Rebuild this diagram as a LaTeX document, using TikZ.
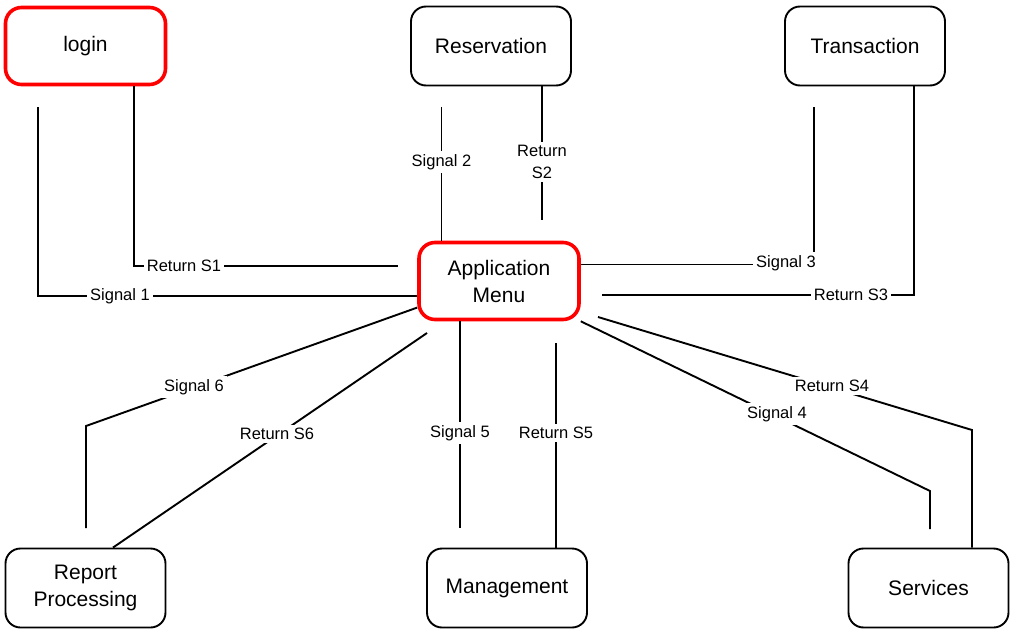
\documentclass[tikz,border=0pt]{standalone}
\usepackage{fontspec}
\setmainfont{Liberation Sans}
\usetikzlibrary{calc}
\begin{document}
\begin{tikzpicture}[x=1pt,y=-1pt,
  box/.style={draw=black, line width=1.9pt, rounded corners=15pt, minimum width=160pt, minimum height=79pt, align=center, inner sep=0pt, font=\fontsize{21}{27}\selectfont},
  redbox/.style={box, draw=red, line width=3.6pt, minimum height=77pt, rounded corners=16pt},
  lbl/.style={fill=white, inner sep=3pt, align=center, font=\fontsize{16.5}{22}\selectfont},
  wire/.style={line width=1.9pt}]
\useasboundingbox (0,0) rectangle (1010,629);
% boxes
\node[redbox] (login) at (85.5,46) {login};
\node[box] (res) at (491,46) {Reservation};
\node[box] (trans) at (865,46) {Transaction};
\node[redbox] (app) at (499,281) {Application\\Menu};
\node[box] (report) at (85.5,588) {Report\\Processing};
\node[box] (mgmt) at (507,588) {Management};
\node[box] (serv) at (928.5,588) {Services};
% coordinates
\coordinate (s1a) at (38,107);
\coordinate (s1b) at (38,296);
\coordinate (r1b) at (134,266);
\coordinate (r1c) at (398,266);
\coordinate (s2a) at (441.5,107);
\coordinate (r2b) at (542,220);
\coordinate (s3a) at (814,107);
\coordinate (s3b) at (814,264.5);
\coordinate (r3b) at (914,295);
\coordinate (r3c) at (602,295);
\coordinate (r4a) at (598,317);
\coordinate (r4b) at (972,430);
\coordinate (s4b) at (930,491);
\coordinate (s4c) at (930,529);
\coordinate (s5b) at (460,528);
\coordinate (r5a) at (556,343);
\coordinate (s6b) at (86,426);
\coordinate (s6c) at (86,528);
\coordinate (r6a) at (427,333);
% connectors
\draw[wire] (s1a) -- (s1b) -- (s1b -| app.west);
\draw[wire] (login.south -| r1b) -- (r1b) -- (r1c);
\draw[wire] (s2a) -- (s2a |- app.north);
\draw[wire] (res.south -| r2b) -- (r2b);
\draw[wire] (s3a) -- (s3b) -- (s3b -| app.east);
\draw[wire] (trans.south -| r3b) -- (r3b) -- (r3c);
\draw[wire] (r4a) -- (r4b) -- (r4b |- serv.north);
\draw[wire] (app.south east) -- (s4b) -- (s4c);
\draw[wire] (app.south -| s5b) -- (s5b);
\draw[wire] (r5a) -- (r5a |- mgmt.north);
\draw[wire] (app.198) -- (s6b) -- (s6c);
\draw[wire] (r6a) -- ($(report.north)+(27.5,0)$);
% labels
\node[lbl] (ls1) at (120,296) {Signal 1};
\node[lbl] (lr1) at (184,266) {Return S1};
\node[lbl] (ls2) at (441.5,162) {Signal 2};
\node[lbl] (lr2) at (542,162) {Return\\S2};
\node[lbl] (ls3) at (786,263) {Signal 3};
\node[lbl] (lr3) at (851,295) {Return S3};
\node[lbl] (lr4) at (832,386) {Return S4};
\node[lbl] (ls4) at (777,414) {Signal 4};
\node[lbl] (ls5) at (460,433) {Signal 5};
\node[lbl] (lr5) at (556,433) {Return S5};
\node[lbl] (ls6) at (194,387) {Signal 6};
\node[lbl] (lr6) at (277,434) {Return S6};
\end{tikzpicture}
\end{document}
